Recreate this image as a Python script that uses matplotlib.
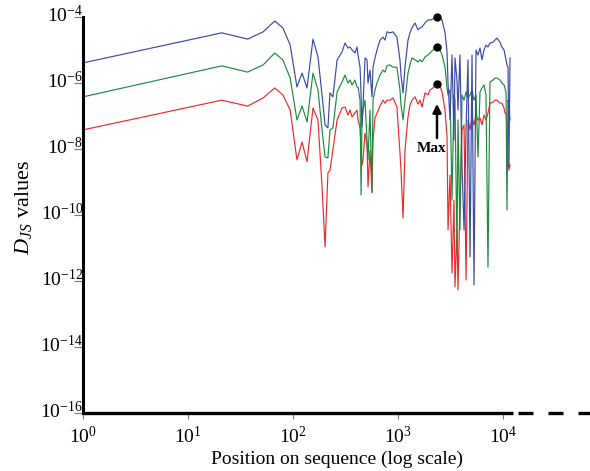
import numpy as np
import matplotlib
matplotlib.use("Agg")
import matplotlib.pyplot as plt
import matplotlib.transforms as mtransforms
from matplotlib.ticker import FixedLocator, NullLocator, LogFormatterMathtext

plt.rcParams["font.family"] = ["Liberation Serif", "DejaVu Serif"]
plt.rcParams["mathtext.fontset"] = "custom"
plt.rcParams["mathtext.rm"] = "Liberation Serif"
plt.rcParams["mathtext.it"] = "Liberation Serif:italic"
plt.rcParams["mathtext.bf"] = "Liberation Serif:bold"

# positions on the sequence
position = [1, 21, 37, 52, 67, 80, 94, 109, 122, 136,
            155, 173, 189, 202, 215, 225, 240, 263, 293, 313,
            334, 349, 365, 389, 407, 416, 435, 445, 454, 464,
            485, 507, 518, 541, 565, 578, 604, 631, 674, 720,
            752, 786, 839, 896, 977, 1044, 1068, 1117, 1166, 1245,
            1300, 1359, 1452, 1550, 1622, 1694, 1808, 1930, 2018, 2154,
            2251, 2352, 2512, 2626, 2805, 2931, 2995, 3130, 3269, 3414,
            3490, 3646, 3727, 3893, 4070, 4254, 4446, 4642, 4853, 5070,
            5297, 5534, 5781, 6040, 6310, 6592, 6887, 7195, 7516, 8035,
            8395, 8770, 9354, 9772, 10233, 10447, 10690, 10914, 11170, 11400,
            11660]

# log10 of D_JS for each curve
blue_log = [-5.39, -4.48, -4.67, -4.45, -4.12, -4.33, -4.85, -6.12, -5.70, -6.15,
            -4.67, -5.21, -6.36, -7.27, -7.36, -6.30, -6.42, -5.30, -5.06, -4.79,
            -4.94, -4.91, -5.00, -5.09, -4.91, -5.15, -5.52, -6.36, -7.33, -6.73,
            -5.24, -5.30, -6.00, -5.61, -6.42, -5.52, -5.24, -5.00, -4.70, -4.61,
            -4.70, -4.45, -4.48, -4.45, -4.61, -5.30, -5.76, -6.30, -5.52, -4.70,
            -4.48, -4.33, -4.18, -4.39, -4.33, -4.30, -4.18, -4.09, -4.09, -4.06,
            -4.04, -4.00, -4.04, -4.09, -4.48, -5.06, -6.00, -7.12, -5.15, -7.73,
            -5.24, -5.91, -6.82, -5.15, -8.48, -10.45, -7.42, -5.30, -11.27, -5.15,
            -12.12, -5.00, -5.15, -4.94, -5.30, -5.00, -4.85, -4.91, -4.79, -4.76,
            -4.70, -4.64, -4.76, -4.91, -5.00, -5.15, -5.30, -5.45, -5.52, -8.55,
            -5.24]
green_log = [-6.42, -5.48, -5.67, -5.45, -5.09, -5.30, -5.85, -7.12, -6.70, -7.18,
             -5.70, -6.21, -7.42, -8.24, -8.27, -7.42, -7.36, -6.27, -5.97, -5.76,
             -6.00, -5.91, -6.06, -5.91, -6.12, -6.12, -6.52, -9.39, -7.12, -6.82,
             -6.52, -7.73, -8.33, -6.82, -9.33, -6.52, -6.21, -6.00, -5.76, -5.61,
             -5.67, -5.48, -5.45, -5.52, -5.52, -6.21, -6.67, -7.12, -6.52, -5.70,
             -5.45, -5.24, -5.30, -5.36, -5.30, -5.36, -5.21, -5.15, -5.09, -5.00,
             -4.94, -4.91, -5.00, -5.15, -5.52, -6.15, -6.36, -6.21, -9.55, -6.36,
             -6.52, -11.15, -7.12, -10.45, -6.36, -6.52, -6.27, -6.45, -6.36, -6.21,
             -6.52, -6.36, -8.24, -6.27, -6.15, -6.06, -6.36, -11.58, -5.97, -5.91,
             -5.85, -5.85, -5.91, -6.00, -6.06, -6.15, -6.30, -9.85, -6.52, -6.67,
             -7.12]
red_log = [-7.42, -6.52, -6.70, -6.45, -6.15, -6.36, -6.82, -8.33, -7.79, -8.39,
           -6.76, -7.12, -9.15, -10.97, -8.73, -8.64, -8.03, -7.12, -6.76, -6.73,
           -6.97, -6.82, -7.03, -6.91, -6.82, -7.12, -7.36, -8.03, -8.48, -8.33,
           -7.52, -7.88, -9.15, -8.03, -9.30, -7.73, -7.06, -6.91, -6.70, -6.52,
           -6.61, -6.52, -6.52, -6.45, -6.73, -8.12, -8.64, -10.09, -8.03, -7.03,
           -6.67, -6.52, -6.42, -6.64, -6.52, -6.73, -6.30, -6.36, -6.21, -6.15,
           -6.06, -6.03, -6.09, -6.27, -6.82, -7.64, -10.45, -8.79, -11.76, -9.55,
           -12.18, -10.45, -12.27, -9.55, -7.42, -7.27, -11.97, -7.12, -7.42, -7.06,
           -7.27, -6.97, -7.12, -7.06, -7.27, -6.97, -7.12, -6.91, -6.61, -6.58,
           -6.52, -6.52, -6.61, -6.61, -6.76, -6.91, -6.91, -7.27, -8.33, -8.64,
           -8.48]

y_ticks = [1e-16, 1e-14, 1e-12, 1e-10, 1e-8, 1e-6, 1e-4]
x_ticks = [1, 10, 100, 1000, 10000]

x = np.array(position)
blue = 10.0 ** np.array(blue_log)
green = 10.0 ** np.array(green_log)
red = 10.0 ** np.array(red_log)

fig = plt.figure(figsize=(5.9, 4.71), dpi=100)
ax = fig.add_axes([0.1407, 0.1231, 0.8593, 0.8408])
ax.set_xscale("log")
ax.set_yscale("log")
ax.set_xlim(1, 67400)
ax.set_ylim(1e-16, 1e-4)

ax.plot(x, red, color="#ec2a2a", lw=0.85)
ax.plot(x, green, color="#1e8a3e", lw=0.85)
ax.plot(x, blue, color="#3a4aa6", lw=0.85)

# maxima
imax = int(np.argmax(blue))
for s in (blue, green, red):
    ax.plot(x[imax], s[imax], "o", color="black", ms=5, clip_on=False, zorder=5)

ax.annotate("", xy=(x[imax], 10 ** -6.55), xytext=(x[imax], 10 ** -7.75),
            arrowprops=dict(arrowstyle="-|>,head_width=0.25,head_length=0.5",
                            lw=1.8, color="black"))
ax.text(2110, 10 ** -7.8, "Max", ha="center", va="top", fontsize=11,
        fontweight="bold")

# axes styling
for side in ("top", "right", "bottom"):
    ax.spines[side].set_visible(False)
ax.spines["left"].set_linewidth(2.2)
ax.plot([1, 12450], [1e-16, 1e-16], color="black", lw=2.4, clip_on=False,
        solid_capstyle="butt", zorder=6)
ax.plot([13900, 67400], [1e-16, 1e-16], color="black", lw=2.4, clip_on=False,
        linestyle=(0, (4.5, 4.5)), zorder=6)

ax.xaxis.set_major_locator(FixedLocator(x_ticks))
ax.yaxis.set_major_locator(FixedLocator(y_ticks))
ax.xaxis.set_minor_locator(NullLocator())
ax.yaxis.set_minor_locator(NullLocator())
ax.xaxis.set_major_formatter(LogFormatterMathtext())
ax.yaxis.set_major_formatter(LogFormatterMathtext())
ax.tick_params(axis="y", length=6.5, width=0.8, color="#777777", pad=-6.5,
               labelsize=14)
ax.tick_params(axis="x", length=4.5, width=0.8, color="#777777", pad=5,
               labelsize=14)
up = mtransforms.ScaledTranslation(0, 0.04, fig.dpi_scale_trans)
for lab in ax.get_yticklabels():
    lab.set_transform(lab.get_transform() + up)

ax.set_xlabel("Position on sequence (log scale)", fontsize=14, labelpad=2)
ax.set_ylabel(r"$D_{JS}$ values", fontsize=16)
ax.yaxis.set_label_coords(-0.097, 0.518)

fig.savefig("out.png", dpi=100)
